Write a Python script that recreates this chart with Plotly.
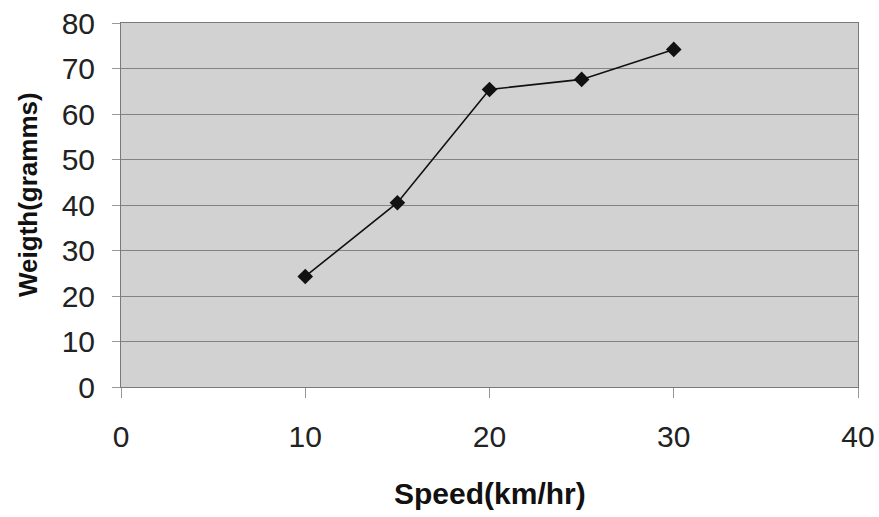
import plotly.graph_objects as go

speed = [10, 15, 20, 25, 30]
weight = [24.3, 40.5, 65.4, 67.6, 74.2]
x_ticks = [0, 10, 20, 30, 40]
y_ticks = [0, 10, 20, 30, 40, 50, 60, 70, 80]

fig = go.Figure()
fig.add_trace(go.Scatter(
    x=speed, y=weight, mode="lines+markers",
    line=dict(color="#111111", width=1.6),
    marker=dict(symbol="diamond", size=12, color="#111111"),
    showlegend=False,
))

font = "Liberation Sans, Arial, sans-serif"
W, H = 879, 517
L, R, T, B = 121, 21, 23, 130
fig.update_layout(
    width=W, height=H,
    margin=dict(l=L, r=R, t=T, b=B, autoexpand=False),
    paper_bgcolor="white",
    plot_bgcolor="#d2d2d2",
    font=dict(family=font, color="#222222"),
    xaxis=dict(
        range=[0, 40], tickvals=x_ticks, showgrid=False, zeroline=False,
        showline=True, linecolor="#7a7a7a", linewidth=1, mirror=True,
        ticks="outside", ticklen=10, tickcolor="#999999",
        tickfont=dict(size=30, family=font, color="#222222"),
        ticklabelstandoff=13, automargin=False,
    ),
    yaxis=dict(
        range=[0, 80], tickvals=y_ticks, showgrid=True, gridcolor="#838383", gridwidth=1,
        zeroline=False,
        showline=True, linecolor="#7a7a7a", linewidth=1, mirror=True,
        ticks="outside", ticklen=8, tickcolor="#999999",
        tickfont=dict(size=30, family=font, color="#222222"),
        ticklabelstandoff=11, automargin=False,
    ),
    annotations=[
        dict(text="<b>Speed(km/hr)</b>", xref="paper", yref="paper",
             x=(490 - L) / (W - L - R), y=-(493 - (H - B)) / (H - T - B),
             xanchor="center", yanchor="middle", showarrow=False,
             font=dict(size=30, family=font, color="#111111")),
        dict(text="<b>Weigth(gramms)</b>", xref="paper", yref="paper",
             x=-(L - 28) / (W - L - R), y=((H - B) - 195) / (H - T - B),
             xanchor="center", yanchor="middle", showarrow=False, textangle=-90,
             font=dict(size=26, family=font, color="#111111")),
    ],
)

fig.write_html("out.html")
